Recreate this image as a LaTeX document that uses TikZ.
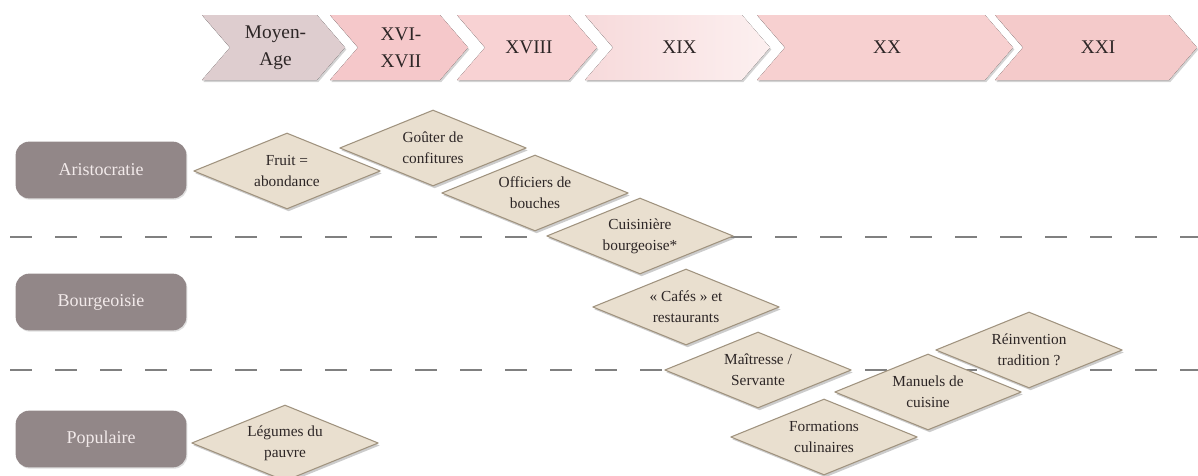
\documentclass[tikz,border=0pt]{standalone}
\usepackage{fontspec}
\setmainfont{Liberation Serif}
\usepackage{tikz}
\usetikzlibrary{shapes.geometric}
\usetikzlibrary{shadows}
\definecolor{cMA}{RGB}{222,205,207}
\definecolor{cXVI}{RGB}{245,200,202}
\definecolor{cXVIII}{RGB}{248,210,211}
\definecolor{cXIXa}{RGB}{247,218,219}
\definecolor{cXIXb}{RGB}{252,240,240}
\definecolor{cXX}{RGB}{247,208,208}
\definecolor{cXXI}{RGB}{244,202,202}
\definecolor{beige}{RGB}{233,223,207}
\definecolor{beigeborder}{RGB}{160,147,127}
\definecolor{classgray}{RGB}{146,135,136}
\definecolor{classtext}{RGB}{242,234,234}
\definecolor{inkdark}{RGB}{45,38,38}
\definecolor{sepgray}{RGB}{128,128,128}

\begin{document}
\begin{tikzpicture}[line cap=round,line join=round, x=0.75pt, y=-0.75pt,
  period/.style={draw=none, drop shadow={shadow xshift=1pt, shadow yshift=-1.5pt, opacity=0.35}},
  fait/.style={diamond, aspect=2.46, inner sep=0pt, minimum width=140pt, minimum height=57pt,
    fill=beige, draw=beigeborder, line width=0.8pt, align=center, text=inkdark,
    font=\fontsize{11.5}{16}\selectfont,
    drop shadow={shadow xshift=1.2pt, shadow yshift=-1.8pt, opacity=0.4}},
  classe/.style={rectangle, rounded corners=10pt, minimum width=128pt, minimum height=42.5pt,
    fill=classgray, text=classtext, font=\fontsize{13.5}{15}\selectfont,
    drop shadow={shadow xshift=0.8pt, shadow yshift=-1pt, opacity=0.25}},
  sep/.style={sepgray, line width=1.5pt, line cap=butt, dash pattern=on 16.5pt off 17.25pt}]
\useasboundingbox (0,0) rectangle (1198,475);
% siecles
\foreach \l/\r/\ca/\cb/\txt [count=\i] in {202/345/cMA/cMA/{Moyen-\\Age}, 330/468/cXVI/cXVI/{XVI-\\XVII},
    457/597/cXVIII/cXVIII/XVIII, 585/770/cXIXa/cXIXb/XIX, 757/1013/cXX/cXX/XX, 995/1197/cXXI/cXXI/XXI}{
  \fill[period, left color=\ca, right color=\cb] (\l,15) -- (\r-28,15) -- (\r,47.5) -- (\r-28,80) -- (\l,80) -- (\l+28,47.5) -- cycle;
  \node[align=center, text=inkdark, font=\fontsize{14.5}{20}\selectfont] (per\i) at ({(\l+\r)/2+2},47.5) {\txt};
}
% separations
\draw[sep] (10,237) -- (1198,237);
\draw[sep] (10,370) -- (1198,370);
% classes
\node[classe] (aristo) at (101,170) {Aristocratie};
\node[classe] (bourg) at (101,302) {Bourgeoisie};
\node[classe] (popu) at (101,439) {Populaire};
% faits
\node[fait] (gouter) at (433,148) {Goûter de\\confitures};
\node[fait] (fruit) at (287,171) {Fruit =\\abondance};
\node[fait] (officiers) at (535,193) {Officiers de\\bouches};
\node[fait] (cuisiniere) at (640,236) {Cuisinière\\bourgeoise*};
\node[fait] (cafes) at (686,307) {« Cafés » et\\restaurants};
\node[fait] (maitresse) at (758,370) {Maîtresse /\\Servante};
\node[fait] (reinvention) at (1029,350) {Réinvention\\tradition ?};
\node[fait] (manuels) at (928,392) {Manuels de\\cuisine};
\node[fait] (formations) at (824,437) {Formations\\culinaires};
\node[fait] (legumes) at (285,443) {Légumes du\\pauvre};
\end{tikzpicture}
\end{document}
